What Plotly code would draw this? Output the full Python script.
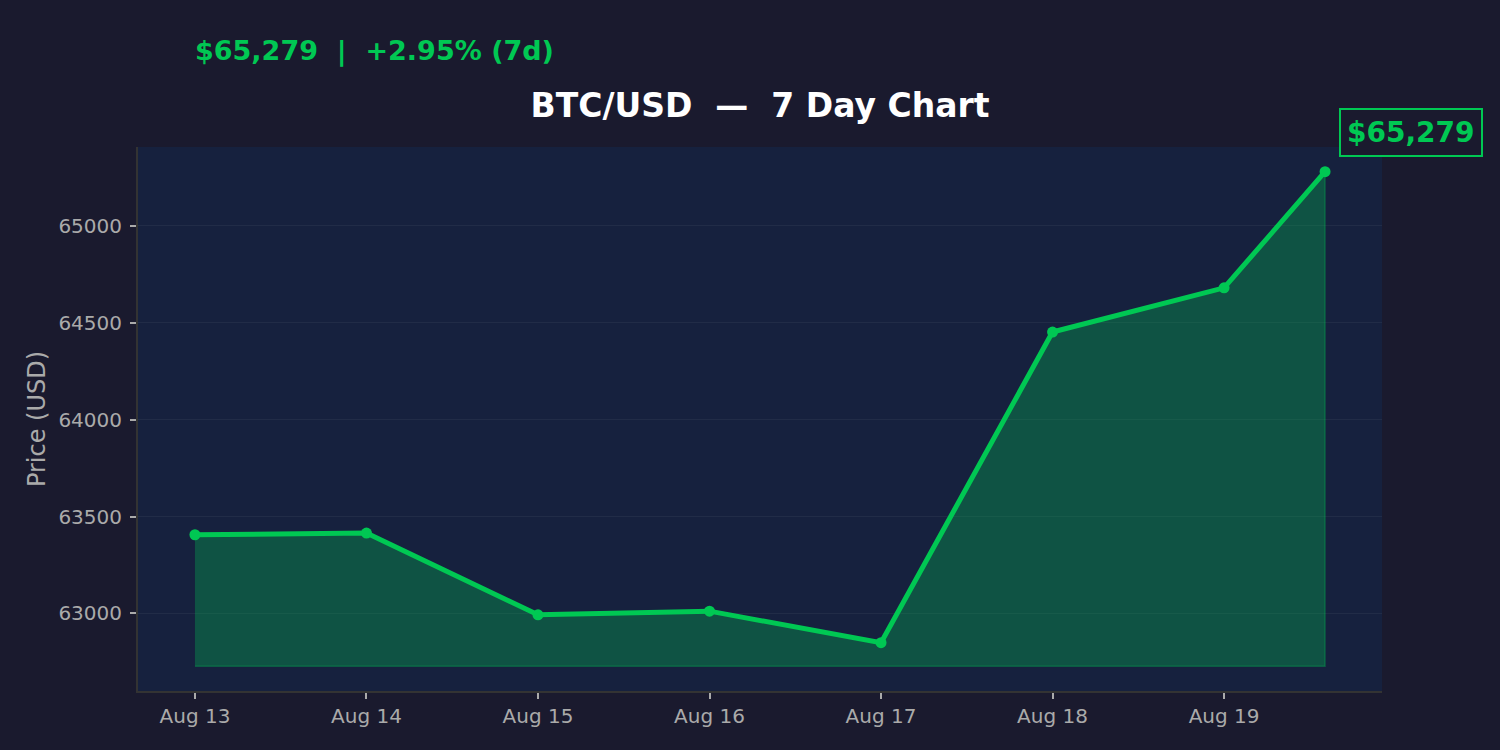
import plotly.graph_objects as go

# 7 day BTC/USD closes, last point is the current price
dates = [
    "2024-08-13 00:00", "2024-08-14 00:00", "2024-08-15 00:00",
    "2024-08-16 00:00", "2024-08-17 00:00", "2024-08-18 00:00",
    "2024-08-19 00:00", "2024-08-19 14:08",
]
prices = [63406, 63415, 62993, 63012, 62849, 64452, 64680, 65279]
y_ticks = [63000, 63500, 64000, 64500, 65000]

BG = "#1a1a2e"
PLOT_BG = "#16213e"
GREEN = "#00c853"
GREY = "#aaaaaa"
FONT = "DejaVu Sans"

last = prices[-1]
change = (prices[-1] / prices[0] - 1) * 100
spread = max(prices) - min(prices)
base = min(prices) - 0.05 * spread
pad = 0.05 * (max(prices) - base)

fig = go.Figure()

# shaded area under the line
fig.add_trace(go.Scatter(
    x=dates + [dates[-1], dates[0]],
    y=prices + [base, base],
    fill="toself",
    fillcolor="rgba(0,200,83,0.3)",
    line=dict(color="rgba(0,200,83,0.3)", width=1.5),
    mode="lines",
    hoverinfo="skip",
    showlegend=False,
))

fig.add_trace(go.Scatter(
    x=dates,
    y=prices,
    mode="lines+markers",
    line=dict(color=GREEN, width=5),
    marker=dict(color=GREEN, size=11),
    showlegend=False,
))

# price tag at the latest point
fig.add_annotation(
    x=dates[-1], y=last,
    text=f"<b>${last:,.0f}</b>",
    showarrow=True, arrowcolor="rgba(0,0,0,0)", arrowhead=0,
    ax=86, ay=-39,
    font=dict(family=FONT, size=28, color=GREEN),
    bgcolor=BG, bordercolor=GREEN, borderwidth=2, borderpad=6,
)

# header line above the title
fig.add_annotation(
    xref="paper", yref="paper", x=0.0444, y=1.176,
    xanchor="left", yanchor="middle",
    text=f"<b>${last:,.0f}  |  +{change:.2f}% (7d)</b>".replace("  ", "&nbsp;&nbsp;"),
    showarrow=False,
    font=dict(family=FONT, size=27, color=GREEN),
)

fig.update_layout(
    width=1500, height=750,
    paper_bgcolor=BG,
    plot_bgcolor=PLOT_BG,
    margin=dict(l=138, r=118, t=147, b=59),
    font=dict(family=FONT, color=GREY),
    title=dict(
        text="<b>BTC/USD  —  7 Day Chart</b>".replace("  ", "&nbsp;&nbsp;"),
        x=0.5, xref="paper", xanchor="center",
        y=0.86, yref="container", yanchor="middle",
        font=dict(family=FONT, size=33, color="white"),
    ),
)

fig.update_xaxes(
    type="date",
    range=["2024-08-12 16:02", "2024-08-19 22:06"],
    dtick=86400000, tick0="2024-08-13",
    tickformat="%b %d",
    ticks="outside", ticklen=6, tickwidth=1.5, tickcolor=GREY,
    tickfont=dict(family=FONT, size=20, color=GREY),
    showgrid=False, zeroline=False,
    showline=True, linecolor="#333333", linewidth=2,
)

fig.update_yaxes(
    range=[base - pad, max(prices) + pad],
    tickvals=y_ticks, tickformat="d",
    ticks="outside", ticklen=6, tickwidth=1.5, tickcolor=GREY,
    ticklabelstandoff=4,
    tickfont=dict(family=FONT, size=20, color=GREY),
    showgrid=True, gridcolor="rgba(255,255,255,0.05)", gridwidth=1,
    zeroline=False,
    showline=True, linecolor="#333333", linewidth=2,
    title=dict(text="Price (USD)", standoff=6,
               font=dict(family=FONT, size=24, color=GREY)),
)

# drop the default page margin so the figure sits at the window corner
fig.write_html(
    "out.html",
    config={"displayModeBar": False},
    post_script="document.body.style.margin='0';",
)
